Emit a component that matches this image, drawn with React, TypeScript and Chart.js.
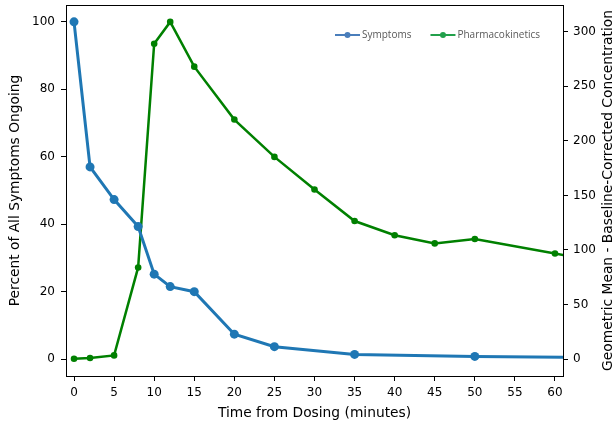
import React, { useEffect, useRef } from "react";
import { Chart, registerables } from "chart.js";

Chart.register(...registerables);

const timeSymptoms = [0, 2, 5, 8, 10, 12, 15, 20, 25, 35, 50, 90];
const symptoms = [100, 57, 47.3, 39.3, 25.2, 21.5, 20, 7.4, 3.7, 1.4, 0.8, 0];
const timePK = [0, 2, 5, 8, 10, 12, 15, 20, 25, 30, 35, 40, 45, 50, 60, 90];
const pk = [0.3, 1, 3.4, 84, 289, 309, 268, 219.5, 185.3, 155.4, 126.5, 113.5, 106, 110, 96.8, 55];
const xTicks = [0, 5, 10, 15, 20, 25, 30, 35, 40, 45, 50, 55, 60];
const leftTicks = [0, 20, 40, 60, 80, 100];
const rightTicks = [0, 50, 100, 150, 200, 250, 300];
const legendLabels = ["Symptoms", "Pharmacokinetics"];
const legendColors = ["#4a7ebb", "#22a04b"];
const xTitle = "Time from Dosing (minutes)";
const leftTitle = "Percent of All Symptoms Ongoing";
const rightTitle = "Geometric Mean - Baseline-Corrected Concentration";

const FONT = "'DejaVu Sans', sans-serif";
const TITLE_FONT = "13.8px 'DejaVu Sans', sans-serif";

const boxPlugin = {
  id: "boxAndLegend",
  afterDraw(chart: any) {
    const { ctx, chartArea } = chart;
    ctx.save();
    ctx.strokeStyle = "#000";
    ctx.lineWidth = 1;
    ctx.beginPath();
    ctx.moveTo(chartArea.left, chartArea.top + 0.5);
    ctx.lineTo(chartArea.right, chartArea.top + 0.5);
    ctx.stroke();

    // axis titles
    const cx = (chartArea.left + chartArea.right) / 2;
    const cy = (chartArea.top + chartArea.bottom) / 2;
    ctx.fillStyle = "#000";
    ctx.font = TITLE_FONT;
    ctx.textAlign = "center";
    ctx.textBaseline = "middle";
    ctx.fillText(xTitle, cx, 413);
    ctx.save();
    ctx.translate(15, cy);
    ctx.rotate(-Math.PI / 2);
    ctx.fillText(leftTitle, 0, 0);
    ctx.restore();
    ctx.save();
    ctx.translate(608, cy);
    ctx.rotate(-Math.PI / 2);
    ctx.fillText(rightTitle, 0, 0);
    ctx.restore();

    // legend
    const y = 35;
    let x = 335;
    ctx.font = "10px 'Open Sans', sans-serif";
    ctx.textAlign = "left";
    ctx.textBaseline = "middle";
    legendLabels.forEach((lab, i) => {
      ctx.strokeStyle = legendColors[i];
      ctx.fillStyle = legendColors[i];
      ctx.lineWidth = 2;
      ctx.beginPath();
      ctx.moveTo(x, y);
      ctx.lineTo(x + 25, y);
      ctx.stroke();
      ctx.beginPath();
      ctx.arc(x + 12.5, y, 3, 0, Math.PI * 2);
      ctx.fill();
      ctx.fillStyle = "#595959";
      ctx.fillText(lab, x + 27, y);
      x += 27 + ctx.measureText(lab).width + 19;
    });
    ctx.restore();
  },
};

export default function App() {
  const ref = useRef<HTMLCanvasElement | null>(null);
  useEffect(() => {
    document.body.style.margin = "0";
    const canvas = ref.current!;
    const chart = new Chart(canvas, {
      type: "line",
      data: {
        datasets: [
          {
            label: "Symptoms",
            data: timeSymptoms.map((t, i) => ({ x: t, y: symptoms[i] })),
            borderColor: "#1f77b4",
            backgroundColor: "#1f77b4",
            borderWidth: 3,
            pointRadius: 4.5,
            pointBorderWidth: 0,
            yAxisID: "y",
            clip: 0,
          },
          {
            label: "Pharmacokinetics",
            data: timePK.map((t, i) => ({ x: t, y: pk[i] })),
            borderColor: "#008000",
            backgroundColor: "#008000",
            borderWidth: 2.5,
            pointRadius: 3.3,
            pointBorderWidth: 0,
            yAxisID: "y1",
            clip: 0,
          },
        ],
      },
      options: {
        animation: false,
        responsive: false,
        maintainAspectRatio: false,
        layout: { padding: { top: 5, left: 0, right: 0, bottom: 0 } },
        plugins: { legend: { display: false }, tooltip: { enabled: false } },
        scales: {
          x: {
            type: "linear",
            min: -1,
            max: 61,
            afterBuildTicks: (s: any) => {
              s.ticks = xTicks.map((v) => ({ value: v }));
            },
            afterFit: (s: any) => {
              s.height = 49;
              s.paddingLeft = 0;
              s.paddingRight = 0;
            },
            grid: { drawOnChartArea: false, drawTicks: true, tickLength: 5, color: "#000" },
            border: { display: true, color: "#000", width: 1 },
            ticks: { color: "#000", font: { family: FONT, size: 12 }, padding: 5, maxRotation: 0 },
            title: { display: false },
          },
          y: {
            type: "linear",
            position: "left",
            min: -5,
            max: 105,
            afterBuildTicks: (s: any) => {
              s.ticks = leftTicks.map((v) => ({ value: v }));
            },
            afterFit: (s: any) => {
              s.width = 66;
              s.paddingTop = 0;
              s.paddingBottom = 0;
            },
            grid: { drawOnChartArea: false, drawTicks: true, tickLength: 5, color: "#000" },
            border: { display: true, color: "#000", width: 1 },
            ticks: { color: "#000", font: { family: FONT, size: 12 }, padding: 6 },
            title: { display: false },
          },
          y1: {
            type: "linear",
            position: "right",
            min: -15.5,
            max: 324.5,
            afterBuildTicks: (s: any) => {
              s.ticks = rightTicks.map((v) => ({ value: v }));
            },
            afterFit: (s: any) => {
              s.width = 53;
              s.paddingTop = 0;
              s.paddingBottom = 0;
            },
            grid: { drawOnChartArea: false, drawTicks: true, tickLength: 5, color: "#000" },
            border: { display: true, color: "#000", width: 1 },
            ticks: { color: "#000", font: { family: FONT, size: 12 }, padding: 5 },
            title: { display: false },
          },
        },
      } as any,
      plugins: [boxPlugin],
    });
    return () => chart.destroy();
  }, []);
  return (
    <div style={{ position: "absolute", left: 0, top: 0, width: 616, height: 425 }}>
      <canvas ref={ref} width={616} height={425} style={{ width: 616, height: 425 }} />
    </div>
  );
}
